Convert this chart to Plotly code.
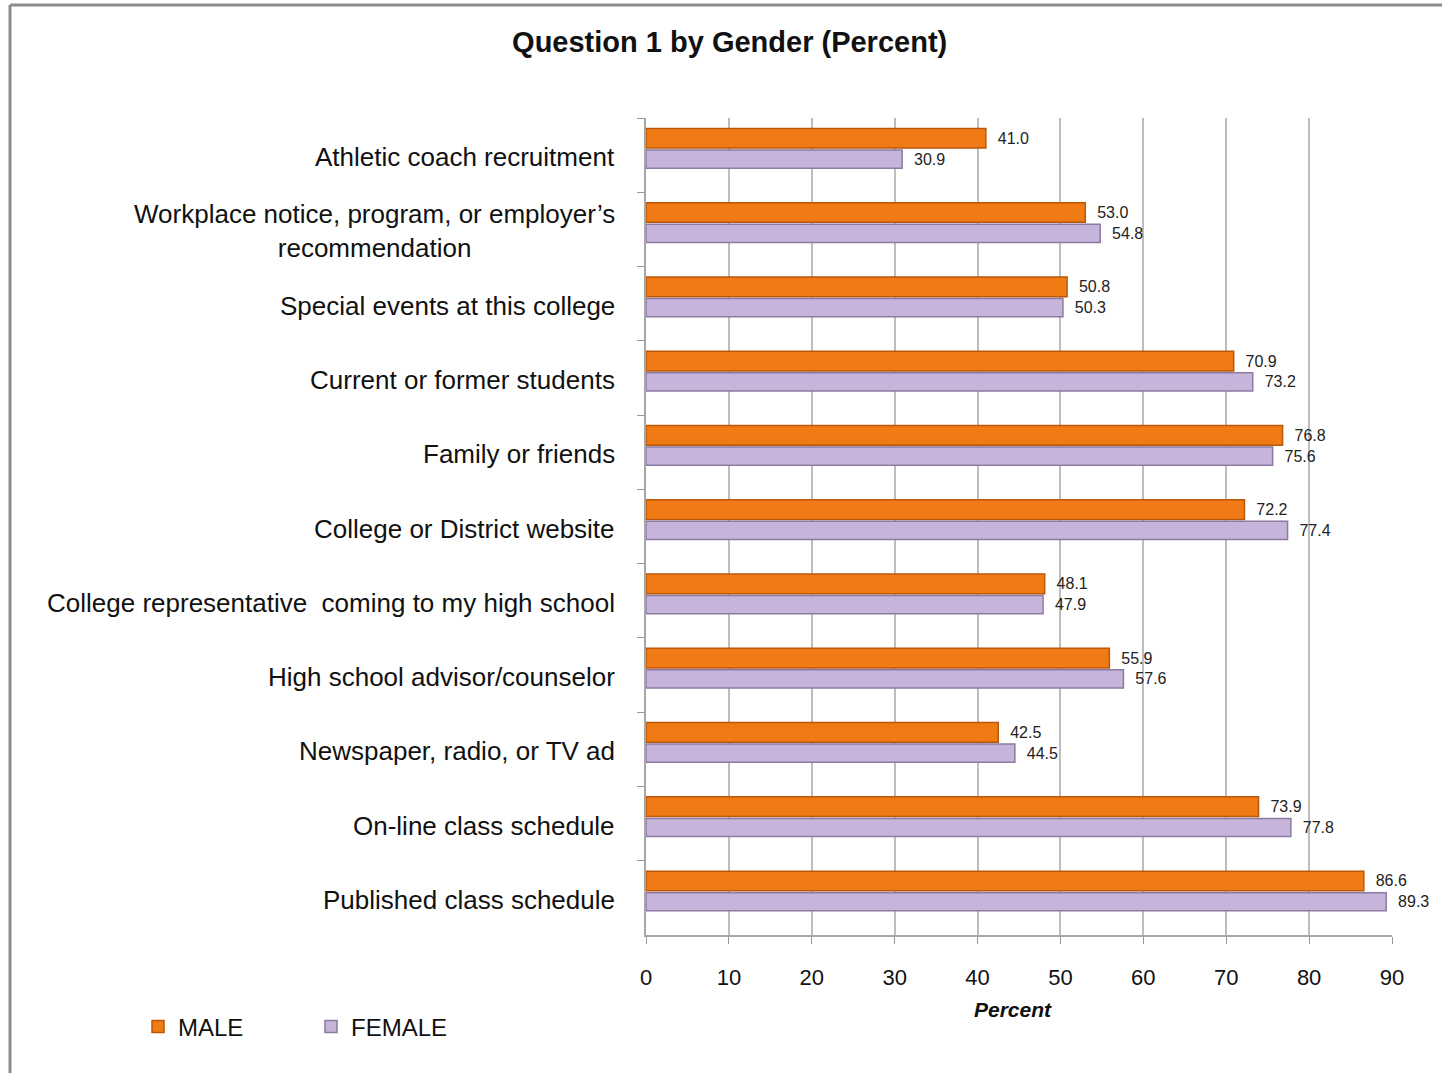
import plotly.graph_objects as go

categories = [
    "Athletic coach recruitment",
    "Workplace notice, program, or employer\u2019s<br>recommendation",
    "Special events at this college",
    "Current or former students",
    "Family or friends",
    "College or District website",
    "College representative  coming to my high school",
    "High school advisor/counselor",
    "Newspaper, radio, or TV ad",
    "On-line class schedule",
    "Published class schedule",
]
male = [41.0, 53.0, 50.8, 70.9, 76.8, 72.2, 48.1, 55.9, 42.5, 73.9, 86.6]
female = [30.9, 54.8, 50.3, 73.2, 75.6, 77.4, 47.9, 57.6, 44.5, 77.8, 89.3]
x_ticks = [0, 10, 20, 30, 40, 50, 60, 70, 80, 90]

W, H = 1442, 1073
L, R, T, B = 646, 1392, 118, 935  # plot area pixels


def px(x):
    return (x - L) / (R - L)


def py(y):
    return (B - y) / (B - T)


FONT = "Liberation Sans, Arial, sans-serif"
NB = "\u00a0\u00a0"

fig = go.Figure()
fig.add_trace(go.Bar(
    name="MALE", y=categories, x=male, orientation="h",
    width=0.265, offset=-0.36,
    marker=dict(color="#F07A14", line=dict(color="#B9570A", width=1.5)),
    texttemplate=NB + "%{x:.1f}", textposition="outside",
    textfont=dict(size=16, color="#222222", family=FONT),
    cliponaxis=False,
))
fig.add_trace(go.Bar(
    name="FEMALE", y=categories, x=female, orientation="h",
    width=0.245, offset=-0.07,
    marker=dict(color="#C6B4DA", line=dict(color="#8C7AA3", width=1.5)),
    texttemplate=NB + "%{x:.1f}", textposition="outside",
    textfont=dict(size=16, color="#222222", family=FONT),
    cliponaxis=False,
))

annotations = []
for c in categories:
    annotations.append(dict(
        x=px(617), xref="paper", y=c, yref="y", text=c, showarrow=False,
        xanchor="right", yanchor="middle", align="center", yshift=-2,
        font=dict(size=26, color="#111111", family=FONT),
    ))
annotations.append(dict(
    x=px(1013), xref="paper", y=py(1010), yref="paper", text="<b><i>Percent</i></b>",
    showarrow=False, xanchor="center", yanchor="middle",
    font=dict(size=21, color="#111111", family=FONT),
))

shapes = [
    dict(type="line", xref="paper", yref="paper", x0=px(10), x1=px(1442), y0=py(5), y1=py(5),
         line=dict(color="#8C8C8C", width=3)),
    dict(type="line", xref="paper", yref="paper", x0=px(10), x1=px(10), y0=py(5), y1=py(1073),
         line=dict(color="#8C8C8C", width=3)),
]

fig.update_layout(
    width=W, height=H,
    margin=dict(l=L, r=W - R, t=T, b=H - B),
    paper_bgcolor="white", plot_bgcolor="white",
    barmode="group",
    font=dict(family=FONT, color="#111111"),
    title=dict(text="<b>Question 1 by Gender (Percent)</b>", x=0.506, xref="container",
               xanchor="center", y=1 - 42 / H, yref="container", yanchor="middle",
               font=dict(size=29, color="#111111", family=FONT)),
    legend=dict(orientation="h", x=px(138), xanchor="left", y=py(1027), yanchor="middle",
                entrywidth=128, entrywidthmode="pixels",
                font=dict(size=24, color="#111111", family=FONT),
                traceorder="normal", bgcolor="rgba(0,0,0,0)"),
    xaxis=dict(range=[0, 90], tickvals=x_ticks, ticks="outside", ticklen=7, tickcolor="#999999",
               showgrid=True, gridcolor="#BDBDBD", gridwidth=1.5,
               showline=True, linecolor="#A6A6A6", linewidth=2,
               zeroline=False, ticklabelstandoff=15,
               tickfont=dict(size=22, color="#111111", family=FONT)),
    yaxis=dict(type="category", autorange="reversed", showticklabels=False,
               ticks="outside", ticklen=7, tickcolor="#999999", tickson="boundaries",
               showline=True, linecolor="#A6A6A6", linewidth=2, showgrid=False),
    annotations=annotations, shapes=shapes,
)

fig.write_html("out.html", config={"displayModeBar": False},
               post_script="document.body.style.margin='0';document.body.style.overflow='hidden';")
